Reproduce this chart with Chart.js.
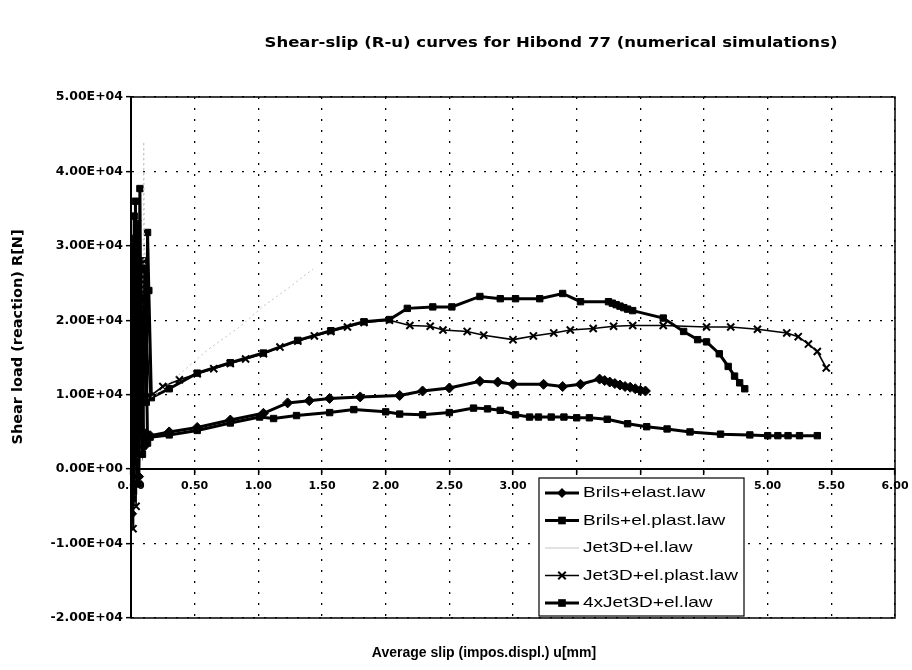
<!DOCTYPE html>
<html>
<head>
<meta charset="utf-8">
<title>Shear-slip (R-u) curves for Hibond 77</title>
<script src="https://cdn.jsdelivr.net/npm/chart.js@4.4.1/dist/chart.umd.min.js"></script>
<style>
  html, body { margin: 0; padding: 0; background: #fff; }
  #wrap { width: 912px; height: 670px; position: relative; }
</style>
</head>
<body>
<div id="wrap"><canvas id="chart"></canvas></div>
<script>
// values (slip u in mm, reaction R in N)
const seriesNames = ['Brils+elast.law', 'Brils+el.plast.law', 'Jet3D+el.law', 'Jet3D+el.plast.law', '4xJet3D+el.law'];

const brilsElastX = [0, 0.005, 0.01, 0.02, 0.03, 0.04, 0.05, 0.06, 0.08, 0.1, 0.12, 0.15, 0.3, 0.52, 0.78, 1.04, 1.23, 1.4, 1.56, 1.8, 2.11, 2.29, 2.5, 2.74, 2.88, 3.0, 3.24, 3.39, 3.53, 3.68, 3.72, 3.76, 3.8, 3.84, 3.88, 3.92, 3.96, 4.0, 4.04];
const brilsElastY = [0, -6000, 25000, -2000, 29000, 2000, 26000, -1000, 23000, 3000, 4800, 4500, 5000, 5600, 6600, 7500, 8900, 9200, 9500, 9700, 9900, 10500, 10900, 11800, 11700, 11400, 11400, 11100, 11400, 12100, 11900, 11700, 11500, 11300, 11100, 11000, 10800, 10600, 10500];

const brilsPlastX = [0, 0.01, 0.02, 0.03, 0.04, 0.05, 0.06, 0.07, 0.09, 0.11, 0.13, 0.15, 0.3, 0.52, 0.78, 1.01, 1.12, 1.3, 1.56, 1.75, 2.0, 2.11, 2.29, 2.5, 2.69, 2.8, 2.9, 3.02, 3.13, 3.2, 3.3, 3.4, 3.5, 3.6, 3.74, 3.9, 4.05, 4.21, 4.39, 4.63, 4.86, 5.0, 5.08, 5.16, 5.25, 5.39];
const brilsPlastY = [0, 27000, -3000, 31000, 1000, 28000, -2000, 17000, 2000, 27000, 3500, 4300, 4600, 5200, 6200, 7000, 6800, 7200, 7600, 8000, 7700, 7400, 7300, 7600, 8200, 8100, 7900, 7300, 7000, 7000, 7000, 7000, 6900, 6900, 6700, 6100, 5700, 5400, 5000, 4700, 4600, 4500, 4500, 4500, 4500, 4500];

const jetElastX = [0, 0.05, 0.09, 0.1, 0.11, 0.13, 0.2, 0.33, 0.6, 0.86, 1.04, 1.25, 1.43];
const jetElastY = [0, 6000, 8000, 44000, 20000, 9500, 10000, 12000, 16000, 19200, 21900, 24500, 26900];

const jetPlastX = [0, 0.016, 0.02, 0.03, 0.04, 0.05, 0.06, 0.07, 0.09, 0.11, 0.15, 0.25, 0.38, 0.52, 0.65, 0.78, 0.9, 1.04, 1.17, 1.31, 1.44, 1.57, 1.7, 1.83, 2.03, 2.19, 2.35, 2.45, 2.64, 2.77, 3.0, 3.16, 3.32, 3.45, 3.63, 3.79, 3.94, 4.18, 4.52, 4.71, 4.92, 5.15, 5.24, 5.32, 5.39, 5.46];
const jetPlastY = [0, -8000, 3000, 28000, -5000, 33000, 6000, 26000, 9000, 22000, 9800, 11100, 12000, 12800, 13500, 14200, 14800, 15500, 16400, 17200, 17900, 18500, 19100, 19700, 20000, 19300, 19200, 18700, 18500, 18000, 17400, 17900, 18300, 18700, 18900, 19200, 19300, 19300, 19100, 19100, 18800, 18300, 17800, 16800, 15800, 13600];

const jet4xX = [0, 0.005, 0.01, 0.015, 0.02, 0.025, 0.03, 0.035, 0.04, 0.05, 0.06, 0.07, 0.08, 0.09, 0.1, 0.12, 0.13, 0.14, 0.16, 0.3, 0.52, 0.78, 1.04, 1.31, 1.57, 1.83, 2.03, 2.17, 2.37, 2.52, 2.74, 2.9, 3.02, 3.21, 3.39, 3.53, 3.75, 3.78, 3.81, 3.84, 3.87, 3.9, 3.94, 4.18, 4.34, 4.45, 4.52, 4.62, 4.69, 4.74, 4.78, 4.82];
const jet4xY = [0, 22000, -4000, 30000, 5000, 34000, 12000, 36000, 8000, 33000, 15000, 37700, 10000, 28000, 24000, 9000, 31800, 24000, 9600, 10800, 12900, 14300, 15600, 17300, 18600, 19800, 20100, 21600, 21800, 21800, 23200, 22900, 22900, 22900, 23600, 22500, 22500, 22300, 22100, 21900, 21700, 21500, 21300, 20300, 18500, 17400, 17100, 15500, 13800, 12500, 11600, 10800];

// axis ticks
const xTicks = [0, 0.5, 1, 1.5, 2, 2.5, 3, 3.5, 4, 4.5, 5, 5.5, 6];
const yTicks = [-20000, -10000, 0, 10000, 20000, 30000, 40000, 50000];

const FONT = "'DejaVu Sans', 'Liberation Sans', Arial, sans-serif";
const LFONT = "'Liberation Sans', Arial, sans-serif";

function pts(xs, ys) {
  return xs.map((x, i) => ({ x: x, y: ys[i] }));
}

function sci(v) {
  return Number(v).toExponential(2).toUpperCase().replace(/E([+-])(\d)$/, 'E$10$2');
}

// text squeezed/stretched to the width it has in the scan
function fitText(ctx, text, cx, cy, width, angle) {
  const w = ctx.measureText(text).width;
  ctx.save();
  ctx.translate(cx, cy);
  if (angle) ctx.rotate(angle);
  ctx.scale(width / w, 1);
  ctx.fillText(text, 0, 0);
  ctx.restore();
}

// small marker painter for the legend samples
function marker(ctx, style, x, y, r) {
  ctx.beginPath();
  if (style === 'rectRot') {
    ctx.moveTo(x, y - r); ctx.lineTo(x + r, y); ctx.lineTo(x, y + r); ctx.lineTo(x - r, y);
    ctx.closePath(); ctx.fill();
  } else if (style === 'rect') {
    ctx.rect(x - r * 0.85, y - r * 0.85, r * 1.7, r * 1.7); ctx.fill();
  } else if (style === 'crossRot') {
    const d = r * 0.75;
    ctx.moveTo(x - d, y - d); ctx.lineTo(x + d, y + d);
    ctx.moveTo(x + d, y - d); ctx.lineTo(x - d, y + d);
    ctx.stroke();
  }
}

const frameAndText = {
  id: 'frameAndText',
  afterDatasetsDraw(chart) {
    const { ctx, chartArea: a } = chart;
    ctx.save();
    // plot frame
    ctx.strokeStyle = '#000';
    ctx.lineWidth = 1.5;
    ctx.strokeRect(a.left, a.top, a.right - a.left, a.bottom - a.top);

    // legend box inside the plot
    const lx = 539, ly = 478, lw = 205, lh = 138;
    ctx.fillStyle = '#fff';
    ctx.fillRect(lx, ly, lw, lh);
    ctx.lineWidth = 1.2;
    ctx.strokeRect(lx, ly, lw, lh);
    ctx.font = '15px ' + LFONT;
    ctx.textBaseline = 'middle';
    ctx.textAlign = 'left';
    const k = 155 / ctx.measureText('Jet3D+el.plast.law').width;
    chart.data.datasets.forEach((ds, i) => {
      const cy = ly + 15 + i * 27.5;
      ctx.strokeStyle = ds.borderColor;
      ctx.fillStyle = ds.pointBackgroundColor;
      ctx.lineWidth = ds.borderWidth;
      ctx.beginPath();
      ctx.moveTo(lx + 6, cy); ctx.lineTo(lx + 40, cy);
      ctx.stroke();
      if (ds.pointRadius > 0) {
        ctx.lineWidth = ds.pointBorderWidth;
        marker(ctx, ds.pointStyle, lx + 23, cy, ds.pointRadius);
      }
      ctx.fillStyle = '#000';
      fitText(ctx, ds.label, lx + 44, cy, ctx.measureText(ds.label).width * k);
    });

    // titles
    ctx.fillStyle = '#000';
    ctx.textAlign = 'center';
    ctx.textBaseline = 'middle';
    ctx.font = 'bold 14px ' + FONT;
    fitText(ctx, 'Shear-slip (R-u) curves for Hibond 77 (numerical simulations)', 551, 43, 573);
    ctx.font = 'bold 14px ' + LFONT;
    ctx.fillText('Average slip (impos.displ.) u[mm]', 484, 653);
    ctx.font = 'bold 14px ' + FONT;
    fitText(ctx, 'Shear load (reaction) R[N]', 18, 337, 215, -Math.PI / 2);
    ctx.restore();
  }
};

const common = { showLine: true, tension: 0, borderColor: '#000', pointBackgroundColor: '#000', pointBorderColor: '#000' };

new Chart(document.getElementById('chart'), {
  type: 'scatter',
  data: {
    datasets: [
      Object.assign({}, common, { label: seriesNames[0], data: pts(brilsElastX, brilsElastY), borderWidth: 3, pointStyle: 'rectRot', pointRadius: 5, pointBorderWidth: 1 }),
      Object.assign({}, common, { label: seriesNames[1], data: pts(brilsPlastX, brilsPlastY), borderWidth: 3, pointStyle: 'rect', pointRadius: 4.5, pointBorderWidth: 1 }),
      Object.assign({}, common, { label: seriesNames[2], data: pts(jetElastX, jetElastY), borderWidth: 1, borderColor: '#c4c4c4', pointBackgroundColor: '#c4c4c4', borderDash: [2, 3], pointRadius: 0 }),
      Object.assign({}, common, { label: seriesNames[3], data: pts(jetPlastX, jetPlastY), borderWidth: 1.6, pointStyle: 'crossRot', pointRadius: 5, pointBorderWidth: 2 }),
      Object.assign({}, common, { label: seriesNames[4], data: pts(jet4xX, jet4xY), borderWidth: 3, pointStyle: 'rect', pointRadius: 4.5, pointBorderWidth: 1 })
    ]
  },
  options: {
    responsive: true,
    maintainAspectRatio: false,
    animation: false,
    layout: { padding: { top: 97, right: 17, bottom: 52, left: 0 } },
    plugins: { legend: { display: false }, tooltip: { enabled: false } },
    scales: {
      x: {
        type: 'linear',
        position: { y: 0 },
        min: 0, max: 6,
        afterBuildTicks: s => { s.ticks = xTicks.map(v => ({ value: v })); },
        afterFit: s => { s.paddingLeft = 0; s.paddingRight = 0; },
        ticks: { callback: v => Number(v).toFixed(2), color: '#000', font: { family: FONT, size: 11, weight: 'bold' }, padding: 5, maxRotation: 0 },
        grid: { color: '#000', lineWidth: 1.3, tickLength: 5, tickWidth: 1.5 },
        border: { display: true, color: '#000', width: 2, dash: [2, 9] }
      },
      y: {
        type: 'linear',
        position: 'left',
        min: -20000, max: 50000,
        afterBuildTicks: s => { s.ticks = yTicks.map(v => ({ value: v })); },
        afterFit: s => { s.width = 131; },
        ticks: { callback: v => sci(v), color: '#000', font: { family: FONT, size: 12.5, weight: 'bold' }, padding: 3 },
        grid: { color: '#000', lineWidth: 1.3, tickLength: 5, tickWidth: 1.5 },
        border: { display: true, color: '#000', width: 2, dash: [2, 9] }
      }
    }
  },
  plugins: [frameAndText]
});
</script>
</body>
</html>
